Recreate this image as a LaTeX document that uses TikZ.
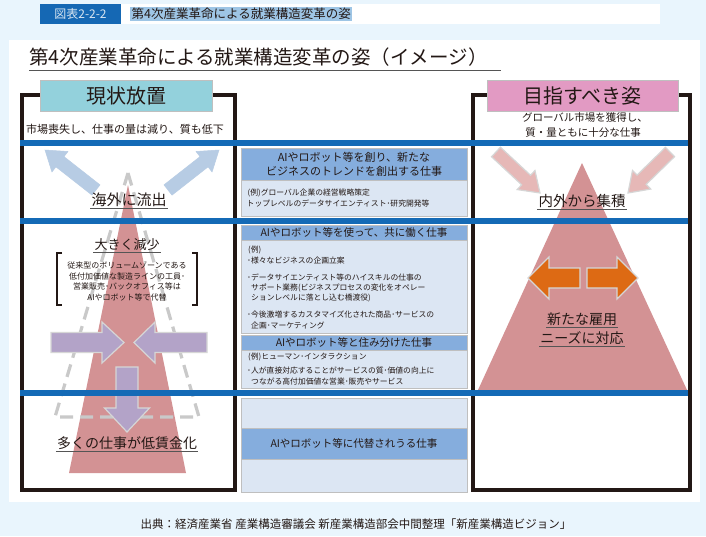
\documentclass[tikz,border=0pt]{standalone}
\usepackage{fontspec}
\setmainfont{Noto Sans CJK JP}
\usetikzlibrary{calc}
\definecolor{bgblue}{HTML}{E9F5FD}
\definecolor{hdrblue}{HTML}{1568B4}
\definecolor{hdrtext}{HTML}{D8E6F2}
\definecolor{hilite}{HTML}{9EC5E5}
\definecolor{ink}{HTML}{231815}
\definecolor{framec}{HTML}{231815}
\definecolor{tealc}{HTML}{93D1DC}
\definecolor{pinkc}{HTML}{E29AC3}
\definecolor{bluel}{HTML}{146AB6}
\definecolor{redtri}{HTML}{D39294}
\definecolor{dashg}{HTML}{C9C9C9}
\definecolor{lbarrow}{HTML}{B7CCE4}
\definecolor{purp}{HTML}{B3A3C8}
\definecolor{pinkarrow}{HTML}{E6B8B7}
\definecolor{orangec}{HTML}{DD6A14}
\definecolor{arrowedge}{HTML}{D6D6D6}
\definecolor{chead}{HTML}{85ADDD}
\definecolor{cbody}{HTML}{DCE6F3}
\definecolor{cedge}{HTML}{BFBFBF}
\definecolor{ulgray}{HTML}{555555}
\newcommand{\myfs}[1]{\fontsize{#1}{#1}\selectfont}
\newcommand{\fatarrow}[6]{%
  \coordinate (fah) at ($(#3)!#4!(#2)$);
  \filldraw[#1] ($(#2)!#5!90:(#3)$) -- ($(fah)!#5!90:(#3)$) -- ($(fah)!#6!90:(#3)$) -- (#3)
    -- ($(fah)!#6!-90:(#3)$) -- ($(fah)!#5!-90:(#3)$) -- ($(#2)!#5!-90:(#3)$) -- cycle;}
\tikzset{
  frame/.style={draw=framec, line width=4pt},
  lbl/.style={draw=cedge, line width=0.6pt, minimum height=31pt, text=ink, font=\myfs{20}},
  bline/.style={draw=bluel, line width=6pt},
  lbarr/.style={fill=lbarrow, draw=lbarrow, line width=0.5pt},
  parr/.style={fill=purp, draw=arrowedge, line width=1.2pt},
  pkarr/.style={fill=pinkarrow, draw=arrowedge, line width=1.2pt},
  orarr/.style={fill=orangec, draw=arrowedge, line width=1.2pt},
  chd/.style={fill=chead, draw=cedge, line width=0.7pt},
  cbd/.style={fill=cbody, draw=cedge, line width=0.7pt},
  bodytext/.style={anchor=west, font=\myfs{7.8}, text=ink},
  headtext/.style={font=\myfs{10.5}, text=ink},
  ultext/.style={anchor=base, text=ink},
  uline/.style={draw=ulgray, line width=0.9pt},
}
\begin{document}
\begin{tikzpicture}[x=1pt,y=-1pt, every node/.style={inner sep=0pt, text=ink}]
\useasboundingbox (0,0) rectangle (706,536);
\fill[bgblue] (0,0) rectangle (706,536);
% header
\fill[hdrblue] (40,4) rectangle (121,24);
\node[font=\myfs{12}, text=hdrtext] (figno) at (80.5,14) {図表2-2-2};
\fill[white] (121,4) rectangle (660,24);
\node[font=\myfs{12.5}, fill=hilite, inner sep=1.5pt, anchor=west] (hdr) at (130,14) {第4次産業革命による就業構造変革の姿};
% main panel
\fill[white] (9,40) rectangle (700,502);
\node[font=\myfs{19.5}, anchor=base west] (title) at (29,64) {第4次産業革命による就業構造変革の姿（イメージ）};
\draw[draw=ulgray, line width=1.3pt] (29,70.5) -- (501,70.5);
% frames
\draw[frame] (21.5,95) rectangle (234.5,490);
\draw[frame] (473,95) rectangle (690,490);
\node[lbl, fill=tealc, minimum width=172pt] (lstat) at (126,95.5) {現状放置};
\node[lbl, fill=pinkc, minimum width=191pt] (rgoal) at (582.5,95.5) {目指すべき姿};
\node[font=\myfs{11}] (ldesc) at (125,129) {市場喪失し、仕事の量は減り、質も低下};
\node[font=\myfs{10.5}, align=center, text depth=0pt] (rdesc1) at (585,117) {グローバル市場を獲得し、};
\node[font=\myfs{10.5}] (rdesc2) at (583,133) {質・量ともに十分な仕事};
% left figure
\fill[redtri] (128,185) -- (186,473) -- (69,473) -- cycle;
\draw[draw=dashg, line width=3.2pt, dash pattern=on 13pt off 7pt, line join=miter] (128,173) -- (199,417) -- (55,417) -- cycle;
\coordinate (la1t) at (96,190); \coordinate (la1p) at (45,150);
\coordinate (la2t) at (168,190); \coordinate (la2p) at (219,150);
\fatarrow{lbarr}{la1t}{la1p}{19pt}{6.5pt}{13pt}
\fatarrow{lbarr}{la2t}{la2p}{19pt}{6.5pt}{13pt}
\coordinate (pa1t) at (51,342.5); \coordinate (pa1p) at (124,342.5);
\coordinate (pa2t) at (207,342.5); \coordinate (pa2p) at (134,342.5);
\coordinate (pa3t) at (127,367); \coordinate (pa3p) at (127,432);
\fatarrow{parr}{pa1t}{pa1p}{22pt}{10pt}{20.5pt}
\fatarrow{parr}{pa2t}{pa2p}{21pt}{10pt}{20.5pt}
\fatarrow{parr}{pa3t}{pa3p}{24pt}{11pt}{22.5pt}
% right figure
\fill[redtri] (582,163) -- (687,390) -- (478,390) -- cycle;
\coordinate (ra1t) at (496,152); \coordinate (ra1p) at (540,193);
\coordinate (ra2t) at (670,152); \coordinate (ra2p) at (628,193);
\fatarrow{pkarr}{ra1t}{ra1p}{19pt}{6.5pt}{13pt}
\fatarrow{pkarr}{ra2t}{ra2p}{19pt}{6.5pt}{13pt}
\coordinate (oa1t) at (580,278); \coordinate (oa1p) at (528,278);
\coordinate (oa2t) at (587,278); \coordinate (oa2p) at (638,278);
\fatarrow{orarr}{oa1t}{oa1p}{21pt}{10pt}{21pt}
\fatarrow{orarr}{oa2t}{oa2p}{21pt}{10pt}{21pt}
% center column
\node[chd, minimum width=226pt, minimum height=32pt, align=center, headtext, font=\myfs{11}] (c1h) at (354,164) {AIやロボット等を創り、新たな\\[3pt]ビジネスのトレンドを創出する仕事};
\draw[cbd] (241,180) rectangle (467,216);
\node[bodytext] (c1b1) at (247.5,193) {(例)グローバル企業の経営戦略策定};
\node[bodytext] (c1b2) at (246.5,204) {トップレベルのデータサイエンティスト･研究開発等};
\node[chd, minimum width=226pt, minimum height=15pt, headtext] (c2h) at (354,232.5) {AIやロボット等を使って、共に働く仕事};
\draw[cbd] (241,240) rectangle (467,333);
\node[bodytext] (c2b1) at (248,250) {(例)};
\node[bodytext] (c2b2) at (247,261) {･様々なビジネスの企画立案};
\node[bodytext] (c2b3) at (247,277) {･データサイエンティスト等のハイスキルの仕事の};
\node[bodytext] (c2b4) at (251,287.5) {サポート業務(ビジネスプロセスの変化をオペレー};
\node[bodytext] (c2b5) at (251,298) {ションレベルに落とし込む橋渡役)};
\node[bodytext] (c2b6) at (247,315) {･今後激増するカスタマイズ化された商品･サービスの};
\node[bodytext] (c2b7) at (251,326) {企画･マーケティング};
\node[chd, minimum width=226pt, minimum height=15pt, headtext] (c3h) at (354,342.5) {AIやロボット等と住み分けた仕事};
\draw[cbd] (241,350) rectangle (467,388);
\node[bodytext] (c3b1) at (248,357) {(例)ヒューマン･インタラクション};
\node[bodytext] (c3b2) at (247,371) {･人が直接対応することがサービスの質･価値の向上に};
\node[bodytext] (c3b3) at (251,382) {つながる高付加価値な営業･販売やサービス};
\draw[cbd] (241,398) rectangle (467,492);
\node[chd, minimum width=226pt, minimum height=31pt, headtext] (c4h) at (354,443.5) {AIやロボット等に代替されうる仕事};
% blue lines
\draw[bline] (20,143) -- (688,143);
\draw[bline] (20,221) -- (688,221);
\draw[bline] (20,393) -- (688,393);
% left texts
\node[ultext, font=\myfs{15}] (outflow) at (129,205) {海外に流出};
\draw[uline] ($(outflow.base west)+(-1,3)$) -- ($(outflow.base east)+(1,3)$);
\node[ultext, font=\myfs{13}] (decr) at (127,249) {大きく減少};
\draw[uline] ($(decr.base west)+(-1,3)$) -- ($(decr.base east)+(1,3)$);
\node[font=\myfs{8}, align=center, text=ink] (decrdesc) at (127,281.5) {従来型のボリュームゾーンである\\[2.5pt]低付加価値な製造ラインの工員･\\[2.5pt]営業販売･バックオフィス等は\\[2.5pt]AIやロボット等で代替};
\draw[line width=1.1pt, draw=ink] (62,253) -- (57,253) -- (57,305) -- (62,305);
\draw[line width=1.1pt, draw=ink] (192,253) -- (197,253) -- (197,305) -- (192,305);
\node[ultext, font=\myfs{14}] (lowwage) at (127,448) {多くの仕事が低賃金化};
\draw[uline] ($(lowwage.base west)+(-1,3)$) -- ($(lowwage.base east)+(1,3)$);
% right texts
\node[ultext, font=\myfs{14.5}] (accum) at (582,206) {内外から集積};
\draw[uline] ($(accum.base west)+(-1,3)$) -- ($(accum.base east)+(1,3)$);
\node[ultext, font=\myfs{14}] (newemp1) at (582,324) {新たな雇用};
\draw[uline] ($(newemp1.base west)+(-1,3)$) -- ($(newemp1.base east)+(1,3)$);
\node[ultext, font=\myfs{14}] (newemp2) at (582,343) {ニーズに対応};
\draw[uline] ($(newemp2.base west)+(-1,3)$) -- ($(newemp2.base east)+(1,3)$);
% footer
\node[font=\myfs{11.5}] (src) at (356,524) {出典：経済産業省 産業構造審議会 新産業構造部会中間整理「新産業構造ビジョン」};
\end{tikzpicture}
\end{document}
